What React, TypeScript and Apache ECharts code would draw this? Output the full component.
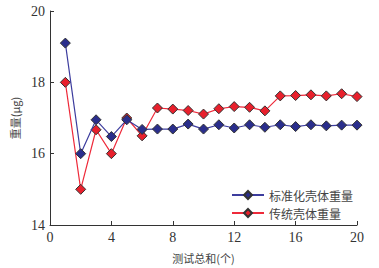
import React, { useEffect, useRef } from "react";
import * as echarts from "echarts";

const xValues = [1, 2, 3, 4, 5, 6, 7, 8, 9, 10, 11, 12, 13, 14, 15, 16, 17, 18, 19, 20];
const standardWeights = [19.1, 16.0, 16.95, 16.48, 16.95, 16.68, 16.69, 16.69, 16.83, 16.69, 16.81, 16.72, 16.81, 16.74, 16.81, 16.76, 16.81, 16.78, 16.8, 16.8];
const traditionalWeights = [18.0, 15.0, 16.67, 16.0, 17.0, 16.5, 17.28, 17.25, 17.21, 17.11, 17.26, 17.32, 17.3, 17.2, 17.62, 17.63, 17.65, 17.62, 17.68, 17.6];
const seriesNames = ["标准化壳体重量", "传统壳体重量"];
const xAxisName = "测试总和(个)";
const yAxisName = "重量(μg)";

export default function App() {
  const ref = useRef<HTMLDivElement>(null);
  useEffect(() => {
    if (!ref.current) return;
    const chart = echarts.init(ref.current, null, { renderer: "svg" });
    const serif = "'Times New Roman', 'Liberation Serif', 'DejaVu Serif', serif";
    const cjk = "Noto Sans CJK SC";
    chart.setOption({
      animation: false,
      backgroundColor: "#ffffff",
      grid: { left: 50, top: 11, right: 22, bottom: 43, containLabel: false },
      legend: {
        orient: "vertical",
        left: 226,
        top: 184,
        itemWidth: 32,
        itemHeight: 10,
        itemGap: 6,
        textStyle: { fontFamily: cjk, fontSize: 12, color: "#444" },
        data: seriesNames,
      },
      xAxis: {
        type: "value",
        min: 0,
        max: 20,
        interval: 4,
        name: xAxisName,
        nameLocation: "middle",
        nameGap: 27,
        nameTextStyle: { fontFamily: cjk, fontSize: 11, color: "#444" },
        axisLine: { show: true, lineStyle: { color: "#333", width: 1 } },
        axisTick: { show: true, inside: true, length: 4, lineStyle: { color: "#333" } },
        axisLabel: { fontFamily: serif, fontSize: 14, color: "#333", margin: 5 },
        splitLine: { show: false },
      },
      yAxis: {
        type: "value",
        min: 14,
        max: 20,
        interval: 2,
        name: yAxisName,
        nameLocation: "middle",
        nameGap: 28,
        nameRotate: 90,
        nameTextStyle: { fontFamily: cjk, fontSize: 11, color: "#444" },
        axisLine: { show: true, lineStyle: { color: "#333", width: 1 } },
        axisTick: { show: true, inside: true, length: 4, lineStyle: { color: "#333" } },
        axisLabel: { fontFamily: serif, fontSize: 14, color: "#333", margin: 5 },
        splitLine: { show: false },
      },
      series: [
        {
          name: seriesNames[0],
          type: "line",
          data: xValues.map((x, i) => [x, standardWeights[i]]),
          symbol: "diamond",
          symbolSize: 10,
          lineStyle: { color: "#3d3d9e", width: 1.2 },
          itemStyle: { color: "#2a2e8c", borderColor: "#333", borderWidth: 1 },
          z: 3,
        },
        {
          name: seriesNames[1],
          type: "line",
          data: xValues.map((x, i) => [x, traditionalWeights[i]]),
          symbol: "diamond",
          symbolSize: 10,
          lineStyle: { color: "#ee2a3a", width: 1.2 },
          itemStyle: { color: "#e8202c", borderColor: "#333", borderWidth: 1 },
          z: 2,
        },
      ],
    });
    return () => chart.dispose();
  }, []);
  return <div ref={ref} style={{ width: 379, height: 268, position: "absolute", left: 0, top: 0 }} />;
}
